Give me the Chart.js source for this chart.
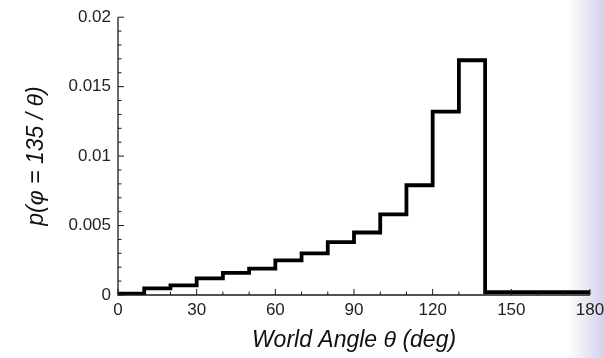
<!DOCTYPE html>
<html>
<head>
<meta charset="utf-8">
<script src="https://cdn.jsdelivr.net/npm/chart.js@4/dist/chart.umd.min.js"></script>
<style>
  html, body { margin: 0; padding: 0; }
  body {
    width: 604px; height: 358px; overflow: hidden;
    background: linear-gradient(to right, #ffffff 0px, #ffffff 568px, #e4e4f2 590px, #d2d4ec 604px);
  }
  #wrap { position: relative; width: 604px; height: 358px; }
</style>
</head>
<body>
<div id="wrap"><canvas id="chart" width="604" height="358"></canvas></div>
<script>
// bin edges (deg) and the probability in each 10-degree bin
const binEdges = [0, 10, 20, 30, 40, 50, 60, 70, 80, 90, 100, 110, 120, 130, 140, 150, 160, 170, 180];
const binValues = [0.0001, 0.00048, 0.0007, 0.0012, 0.0016, 0.0019, 0.0025, 0.003, 0.0038, 0.0045,
                   0.0058, 0.0079, 0.0132, 0.0169, 0.0002, 0.0002, 0.0002, 0.0002];
const xTicks = [0, 30, 60, 90, 120, 150, 180];
const yTicks = [0, 0.005, 0.01, 0.015, 0.02];
const yTickLabels = ['0', '0.005', '0.01', '0.015', '0.02'];

// stepped line needs one point per edge; last point repeats the final bin
const points = binEdges.map((x, i) => ({ x: x, y: binValues[Math.min(i, binValues.length - 1)] }));

const FONT = 'Liberation Sans, Arial, sans-serif';

// axis lines with inward ticks, like the printed figure
const inwardAxes = {
  id: 'inwardAxes',
  afterDraw(chart) {
    const { ctx, chartArea: a, scales: { x, y } } = chart;
    ctx.save();
    ctx.strokeStyle = '#1a1a1a';
    ctx.lineWidth = 1.3;
    ctx.beginPath();
    ctx.moveTo(a.left, a.top);
    ctx.lineTo(a.left, a.bottom);
    ctx.lineTo(a.right, a.bottom);
    ctx.stroke();

    ctx.lineWidth = 1;
    ctx.beginPath();
    for (let v = 0; v <= 180; v += 10) {
      const px = x.getPixelForValue(v);
      const len = (v % 30 === 0) ? 6 : 3.5;
      ctx.moveTo(px, a.bottom);
      ctx.lineTo(px, a.bottom - len);
    }
    for (let k = 0; k <= 20; k++) {
      const py = y.getPixelForValue(k * 0.001);
      const len = (k % 5 === 0) ? 6 : 3.5;
      ctx.moveTo(a.left, py);
      ctx.lineTo(a.left + len, py);
    }
    ctx.stroke();
    ctx.restore();
  }
};

new Chart(document.getElementById('chart'), {
  type: 'line',
  data: {
    datasets: [{
      data: points,
      stepped: true,
      borderColor: '#000',
      borderWidth: 3.8,
      pointRadius: 0,
      fill: false
    }]
  },
  options: {
    responsive: false,
    animation: false,
    layout: { padding: { left: 19, right: 0, top: 8, bottom: 0 } },
    plugins: { legend: { display: false }, tooltip: { enabled: false } },
    scales: {
      x: {
        type: 'linear',
        min: 0, max: 180,
        afterBuildTicks: s => { s.ticks = xTicks.map(v => ({ value: v })); },
        afterFit: s => { s.height = 63; s.paddingRight = 14; },
        grid: { display: false, drawTicks: false },
        border: { display: false },
        ticks: {
          color: '#222',
          font: { family: FONT, size: 17 },
          padding: 5,
          maxRotation: 0
        },
        title: {
          display: true,
          text: 'World Angle θ (deg)',
          color: '#111',
          font: { family: FONT, size: 23, style: 'italic' },
          padding: { top: 6 }
        }
      },
      y: {
        min: 0, max: 0.02,
        afterBuildTicks: s => { s.ticks = yTicks.map(v => ({ value: v })); },
        afterFit: s => { s.width = 99; },
        grid: { display: false, drawTicks: false },
        border: { display: false },
        ticks: {
          color: '#222',
          font: { family: FONT, size: 17 },
          padding: 7,
          callback: (v, i) => yTickLabels[i]
        },
        title: {
          display: true,
          text: 'p(φ = 135 / θ)',
          color: '#111',
          font: { family: FONT, size: 23, style: 'italic' },
          padding: { bottom: 0 }
        }
      }
    }
  },
  plugins: [inwardAxes]
});
</script>
</body>
</html>
